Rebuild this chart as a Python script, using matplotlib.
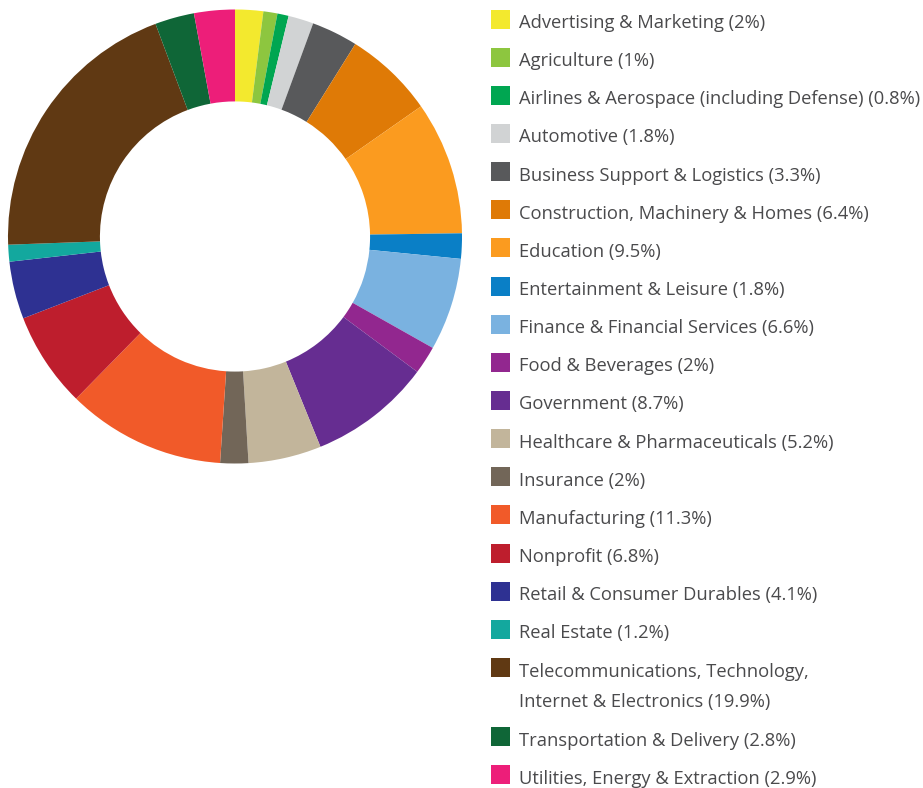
import matplotlib.pyplot as plt
from matplotlib.patches import Rectangle

# industry shares (%), clockwise from 12 o'clock
labels = [
    'Advertising & Marketing (2%)',
    'Agriculture (1%)',
    'Airlines & Aerospace (including Defense) (0.8%)',
    'Automotive (1.8%)',
    'Business Support & Logistics (3.3%)',
    'Construction, Machinery & Homes (6.4%)',
    'Education (9.5%)',
    'Entertainment & Leisure (1.8%)',
    'Finance & Financial Services (6.6%)',
    'Food & Beverages (2%)',
    'Government (8.7%)',
    'Healthcare & Pharmaceuticals (5.2%)',
    'Insurance (2%)',
    'Manufacturing (11.3%)',
    'Nonprofit (6.8%)',
    'Retail & Consumer Durables (4.1%)',
    'Real Estate (1.2%)',
    'Telecommunications, Technology,\nInternet & Electronics (19.9%)',
    'Transportation & Delivery (2.8%)',
    'Utilities, Energy & Extraction (2.9%)',
]
shares = [2, 1, 0.8, 1.8, 3.3, 6.4, 9.5, 1.8, 6.6, 2,
          8.7, 5.2, 2, 11.3, 6.8, 4.1, 1.2, 19.9, 2.8, 2.9]
colors = ['#f3e92e', '#8dc63f', '#00a651', '#d1d3d4', '#58595b',
          '#df7a06', '#fb9b1f', '#0a7fc6', '#7ab2e0', '#92278f',
          '#662d91', '#c2b59b', '#726658', '#f15a29', '#be1e2d',
          '#2e3192', '#13a89e', '#603913', '#0f6637', '#ed1e79']

W, H = 923, 788
fig = plt.figure(figsize=(W / 100, H / 100), dpi=100)
ax = fig.add_axes([0, 0, 1, 1])

# donut, working in pixel coords (y up)
cx, cy, R = 235, H - 236.5, 227
ax.pie(shares, colors=colors, startangle=90, counterclock=False,
       center=(cx, cy), radius=R, frame=True,
       wedgeprops=dict(width=R * 0.405, linewidth=0))
ax.set_xlim(0, W)
ax.set_ylim(0, H)
ax.axis('off')

# legend drawn by hand
y = 19
for lab, col in zip(labels, colors):
    ax.add_patch(Rectangle((491, H - y - 9.5), 19, 19, facecolor=col,
                           edgecolor='none'))
    lines = lab.split('\n')
    for k, line in enumerate(lines):
        ax.text(519, H - y - 9 - 30 * k, line, fontsize=13.2,
                family='Open Sans', color='#4a4a4c',
                va='baseline', ha='left')
    y += 38.15 + 31 * (len(lines) - 1)

fig.savefig('out.png', dpi=100)
